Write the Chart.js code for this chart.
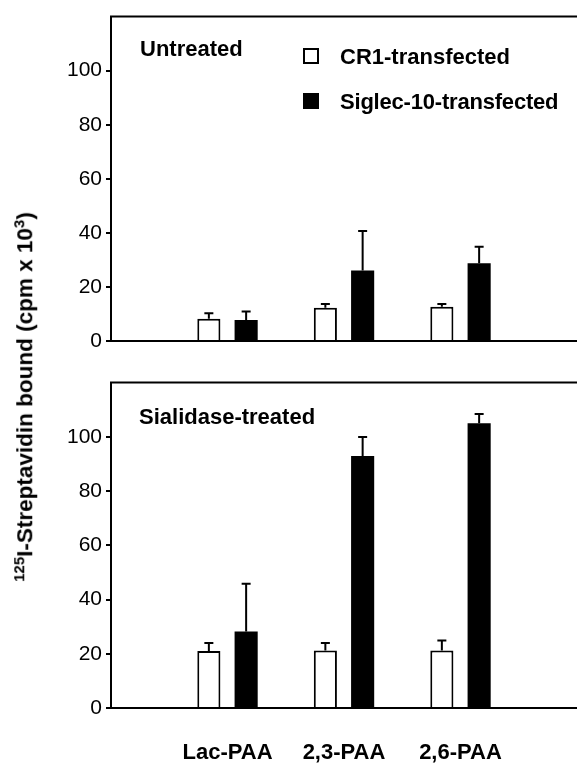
<!DOCTYPE html>
<html>
<head>
<meta charset="utf-8">
<script src="https://cdn.jsdelivr.net/npm/chart.js@4.4.0/dist/chart.umd.min.js"></script>
<style>
  body { margin: 0; background: #fff; font-family: 'Liberation Sans', Arial, Helvetica, sans-serif; }
  #wrap { position: relative; width: 577px; height: 764px; overflow: hidden; }
  canvas { position: absolute; left: 0; }
  #top { top: 0; }
  #bottom { top: 366px; }
  .lbl { position: absolute; font-weight: bold; font-size: 22px; color: #000; white-space: nowrap; line-height: 1; }
  .box { position: absolute; width: 16px; height: 16px; box-sizing: border-box; border: 2px solid #000; }
  #ytitle { position: absolute; left: 24px; top: 397px; transform: translate(-50%, -50%) rotate(-90deg);
            font-weight: bold; font-size: 22.5px; white-space: nowrap; line-height: 1; }
  #ytitle sup { font-size: 15px; vertical-align: 8px; }
</style>
</head>
<body>
<div id="wrap">
  <canvas id="top" width="577" height="362"></canvas>
  <canvas id="bottom" width="577" height="398"></canvas>
  <div class="lbl" style="left:140px; top:38px;">Untreated</div>
  <div class="lbl" style="left:139px; top:406px;">Sialidase-treated</div>
  <div class="box" style="left:303px; top:48px; background:#fff;"></div>
  <div class="lbl" style="left:340px; top:46px;">CR1-transfected</div>
  <div class="box" style="left:303px; top:93px; background:#000;"></div>
  <div class="lbl" style="left:340px; top:91px; letter-spacing:-0.2px;">Siglec-10-transfected</div>
  <div id="ytitle"><sup>125</sup>I-Streptavidin bound (cpm x 10<sup>3</sup>)</div>
</div>
<script>
// empty slots at both ends so the groups sit where the original put them
const categories = ['', 'Lac-PAA', '2,3-PAA', '2,6-PAA', ''];
const yTicks = [0, 20, 40, 60, 80, 100];
const yMax = 120;

// untreated cells
const untreatedCR1 = [null, 8.2, 12.3, 12.7, null];
const untreatedCR1Err = [null, 2.1, 1.4, 1.0, null];
const untreatedSiglec = [null, 7.8, 26.1, 28.8, null];
const untreatedSiglecErr = [null, 3.1, 14.6, 6.1, null];

// sialidase-treated cells
const sialidaseCR1 = [null, 21.0, 21.2, 21.2, null];
const sialidaseCR1Err = [null, 3.0, 2.8, 3.7, null];
const sialidaseSiglec = [null, 28.2, 92.9, 105.0, null];
const sialidaseSiglecErr = [null, 17.6, 7.0, 3.4, null];

const FONT = "'Liberation Sans', Arial, Helvetica, sans-serif";

// draws the upward error bars and the top frame line
const errorBars = {
  id: 'errorBars',
  afterDatasetsDraw(chart) {
    const ctx = chart.ctx;
    const yScale = chart.scales.y;
    ctx.save();
    ctx.strokeStyle = '#000';
    ctx.lineWidth = 2;
    chart.data.datasets.forEach((ds, i) => {
      const meta = chart.getDatasetMeta(i);
      meta.data.forEach((bar, j) => {
        const v = ds.data[j];
        const e = ds.errors[j];
        if (v == null || !e) return;
        const yEnd = yScale.getPixelForValue(v + e);
        ctx.beginPath();
        ctx.moveTo(bar.x, bar.y);
        ctx.lineTo(bar.x, yEnd);
        ctx.moveTo(bar.x - 4.5, yEnd);
        ctx.lineTo(bar.x + 4.5, yEnd);
        ctx.stroke();
      });
    });
    const a = chart.chartArea;
    ctx.beginPath();
    ctx.moveTo(a.left - 1, a.top);
    ctx.lineTo(a.right, a.top);
    ctx.stroke();
    ctx.restore();
  }
};

function makePanel(id, cr1, cr1Err, siglec, siglecErr, padTop, xHeight, showLabels) {
  const ctx = document.getElementById(id).getContext('2d');
  return new Chart(ctx, {
    type: 'bar',
    data: {
      labels: categories,
      datasets: [
        {
          label: 'CR1-transfected',
          data: cr1,
          errors: cr1Err,
          backgroundColor: '#fff',
          borderColor: '#000',
          borderWidth: 2
        },
        {
          label: 'Siglec-10-transfected',
          data: siglec,
          errors: siglecErr,
          backgroundColor: '#000',
          borderWidth: 0
        }
      ]
    },
    options: {
      responsive: false,
      animation: false,
      layout: { padding: { top: padTop, right: 0, bottom: 0, left: 0 } },
      datasets: { bar: { categoryPercentage: 0.64, barPercentage: 0.62 } },
      plugins: { legend: { display: false }, tooltip: { enabled: false } },
      scales: {
        x: {
          offset: false,
          // hidden tick marks only push the labels down
          grid: { display: false, drawTicks: true, tickLength: 32 },
          border: { display: true, color: '#000', width: 2 },
          ticks: {
            display: showLabels,
            autoSkip: false,
            maxRotation: 0,
            padding: 0,
            color: '#000',
            font: { family: FONT, size: 22, weight: 'bold' }
          },
          afterFit(scale) { scale.height = xHeight; }
        },
        y: {
          min: 0,
          max: yMax,
          ticks: {
            stepSize: 20,
            padding: 4,
            color: '#000',
            font: { family: FONT, size: 21 },
            callback: (v) => yTicks.includes(v) ? v : null
          },
          grid: { drawOnChartArea: false, drawTicks: true, tickLength: 5, color: '#000', lineWidth: 2 },
          border: { display: true, color: '#000', width: 2 },
          afterFit(scale) { scale.width = 111; }
        }
      }
    },
    plugins: [errorBars]
  });
}

makePanel('top', untreatedCR1, untreatedCR1Err, untreatedSiglec, untreatedSiglecErr, 12, 21, false);
makePanel('bottom', sialidaseCR1, sialidaseCR1Err, sialidaseSiglec, sialidaseSiglecErr, 14, 56, true);
</script>
</body>
</html>
